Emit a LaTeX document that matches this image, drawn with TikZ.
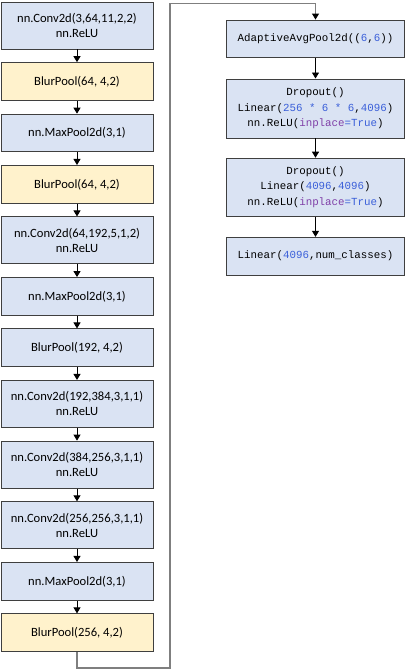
\documentclass[tikz,border=0pt]{standalone}
\usepackage{fontspec}
\usetikzlibrary{arrows.meta}
\newfontfamily\carlito{Carlito}
\newfontfamily\codefont{Liberation Mono}
\definecolor{boxblue}{HTML}{DAE3F3}
\definecolor{boxyellow}{HTML}{FFF2CC}
\definecolor{boxline}{HTML}{3F3F3F}
\definecolor{connline}{HTML}{7F7F7F}
\definecolor{numblue}{HTML}{3A5FD9}
\definecolor{kwpurple}{HTML}{8040A8}
\newcommand{\nb}[1]{\textcolor{numblue}{#1}}
\newcommand{\kp}[1]{\textcolor{kwpurple}{#1}}
\tikzset{
  x=1pt, y=-1pt,
  lbox/.style={draw=boxline, line width=0.95pt, fill=boxblue, minimum width=152pt, align=center, inner sep=0pt,
    font=\carlito\fontsize{12.6}{15}\selectfont},
  lone/.style={lbox, minimum height=37.7pt},
  ltwo/.style={lbox, minimum height=47pt},
  lyel/.style={lone, fill=boxyellow},
  rbox/.style={draw=boxline, line width=0.95pt, fill=boxblue, minimum width=178pt, align=center, inner sep=0pt,
    font=\codefont\fontsize{10.8}{15.5}\selectfont},
  flow/.style={-{Triangle[length=6pt,width=7pt]}, line width=0.9pt, black},
  conn/.style={line width=1.4pt, connline},
}
\begin{document}
\begin{tikzpicture}
\useasboundingbox (0,0) rectangle (405,671);
\fill[white] (0,0) rectangle (405,671);
% left column
\node[ltwo] (b1) at (77,25.5) {nn.Conv2d(3,64,11,2,2)\\nn.ReLU};
\node[lyel] (b2) at (77,81.5) {BlurPool(64, 4,2)};
\node[lone] (b3) at (77,133) {nn.MaxPool2d(3,1)};
\node[lyel] (b4) at (77,184.3) {BlurPool(64, 4,2)};
\node[ltwo] (b5) at (77,240.4) {nn.Conv2d(64,192,5,1,2)\\nn.ReLU};
\node[lone] (b6) at (77,296.4) {nn.MaxPool2d(3,1)};
\node[lone] (b7) at (77,347.8) {BlurPool(192, 4,2)};
\node[ltwo] (b8) at (77,403.9) {nn.Conv2d(192,384,3,1,1)\\nn.ReLU};
\node[ltwo] (b9) at (77,464.6) {nn.Conv2d(384,256,3,1,1)\\nn.ReLU};
\node[ltwo] (b10) at (77,525.3) {nn.Conv2d(256,256,3,1,1)\\nn.ReLU};
\node[lone] (b11) at (77,581.3) {nn.MaxPool2d(3,1)};
\node[lyel] (b12) at (77,632.7) {BlurPool(256, 4,2)};
\foreach \a/\b in {b1/b2,b2/b3,b3/b4,b4/b5,b5/b6,b6/b7,b7/b8,b8/b9,b9/b10,b10/b11,b11/b12}
  \draw[flow] (\a.south) -- (\b.north);
% right column
\node[rbox, minimum height=37.3pt] (ra) at (315.5,38.7) {AdaptiveAvgPool2d((\nb{6},\nb{6}))};
\node[rbox, minimum height=59pt] (rb) at (315.5,108.5) {Dropout()\\Linear(\nb{256 * 6 * 6},\nb{4096})\\nn.ReLU(\kp{inplace}\nb{=True})};
\node[rbox, minimum height=58pt] (rc) at (315.5,187.2) {Dropout()\\Linear(\nb{4096},\nb{4096})\\nn.ReLU(\kp{inplace}\nb{=True})};
\node[rbox, minimum height=37.7pt] (rd) at (315.5,256.2) {Linear(\nb{4096},num\_classes)};
\draw[flow] (ra.south) -- (rb.north);
\draw[flow] (rb.south) -- (rc.north);
\draw[flow] (rc.south) -- (rd.north);
% long connector
\coordinate (c2) at (170,668);
\coordinate (c3) at (170,3.3);
\draw[conn] (b12.south) |- (c2) -- (c3) -| ([yshift=3pt]ra.north);
\draw[flow] ([yshift=3.5pt]ra.north) -- (ra.north);
\end{tikzpicture}
\end{document}
